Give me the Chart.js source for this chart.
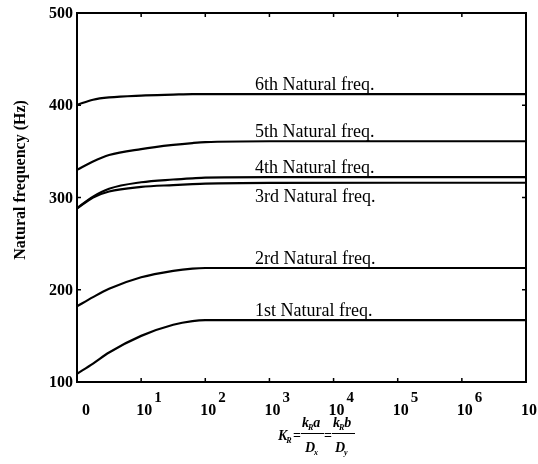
<!DOCTYPE html>
<html>
<head>
<meta charset="utf-8">
<script src="https://cdn.jsdelivr.net/npm/chart.js@4"></script>
<style>
  body { margin: 0; background: #fff; }
  #wrap { width: 538px; height: 464px; }
</style>
</head>
<body>
<div id="wrap"><canvas id="freqChart" width="538" height="464"></canvas></div>
<script>
// x is the decade exponent of K_R (0 .. 7)
const exponents = [0, 0.25, 0.5, 1, 1.5, 1.8, 2, 3, 5, 7];

const freq1 = [109, 120, 132, 150, 162, 166, 167, 167, 167, 167];
const freq2 = [182, 192, 201, 213.5, 220.5, 223, 223.6, 223.6, 223.6, 223.6];
const freq3 = [288, 300, 306.5, 311.5, 313.5, 314.5, 315, 315.8, 316, 316];
const freq4 = [288.5, 301, 309.5, 316.5, 319.5, 320.8, 321.5, 322, 322, 322];
const freq5 = [330, 339, 346, 352.5, 357, 359, 360, 361, 361, 361];
const freq6 = [400.5, 406, 408.5, 410.5, 411.5, 412, 412, 412, 412, 412];

const seriesNames = ['1st Natural freq.', '2rd Natural freq.', '3rd Natural freq.',
                     '4th Natural freq.', '5th Natural freq.', '6th Natural freq.'];
const seriesValues = [freq1, freq2, freq3, freq4, freq5, freq6];

const xTickValues = [0, 1, 2, 3, 4, 5, 6, 7];
const xTickBases = ['0', '10', '10', '10', '10', '10', '10', '10'];
const xTickExps = ['', '1', '2', '3', '4', '5', '6', '7'];
const yTickValues = [100, 200, 300, 400, 500];

const yTitle = 'Natural frequency (Hz)';
const labelAt = 2.775; // where the curve labels start (decade exponent)

const serif = '"Liberation Serif", "DejaVu Serif", serif';

function drawSub(ctx, x, y, main, sub, size) {
    ctx.font = `italic bold ${size}px ${serif}`;
    ctx.fillText(main, x, y);
    let w = ctx.measureText(main).width;
    ctx.font = `italic bold ${Math.round(size * 0.6)}px ${serif}`;
    ctx.fillText(sub, x + w - 1, y + 3);
    return w - 1 + ctx.measureText(sub).width;
}

const decorations = {
    id: 'decorations',
    afterDraw(chart) {
        const ctx = chart.ctx;
        const area = chart.chartArea;
        const xs = chart.scales.x;
        const ys = chart.scales.y;
        ctx.save();
        ctx.fillStyle = '#000';
        ctx.strokeStyle = '#000';

        // frame
        ctx.lineWidth = 2;
        ctx.strokeRect(area.left, area.top, area.right - area.left, area.bottom - area.top);

        // inward ticks
        ctx.lineWidth = 1.5;
        ctx.beginPath();
        xTickValues.forEach(v => {
            const px = xs.getPixelForValue(v);
            ctx.moveTo(px, area.bottom); ctx.lineTo(px, area.bottom - 4);
            ctx.moveTo(px, area.top); ctx.lineTo(px, area.top + 4);
        });
        yTickValues.forEach(v => {
            const py = ys.getPixelForValue(v);
            ctx.moveTo(area.left, py); ctx.lineTo(area.left + 4, py);
            ctx.moveTo(area.right, py); ctx.lineTo(area.right - 4, py);
        });
        ctx.stroke();

        // y tick labels
        ctx.font = `bold 16px ${serif}`;
        ctx.textAlign = 'right';
        ctx.textBaseline = 'middle';
        yTickValues.forEach(v => {
            ctx.fillText(String(v), area.left - 4, ys.getPixelForValue(v) + 1);
        });

        // x tick labels: base plus raised exponent
        ctx.textBaseline = 'alphabetic';
        xTickValues.forEach((v, i) => {
            const px = xs.getPixelForValue(v);
            ctx.font = `bold 16px ${serif}`;
            if (!xTickExps[i]) {
                ctx.textAlign = 'center';
                ctx.fillText(xTickBases[i], px + 9, 415);
                return;
            }
            ctx.textAlign = 'left';
            ctx.fillText(xTickBases[i], px - 5, 415);
            const w = ctx.measureText(xTickBases[i]).width;
            ctx.font = `bold 15px ${serif}`;
            ctx.fillText(xTickExps[i], px - 5 + w + 2, 402);
        });

        // y axis title
        ctx.save();
        ctx.translate(21, 180);
        ctx.rotate(-Math.PI / 2);
        ctx.textAlign = 'center';
        ctx.textBaseline = 'middle';
        ctx.font = `bold 16px ${serif}`;
        ctx.fillText(yTitle, 0, 0);
        ctx.restore();

        // curve labels, sitting on their curves (3rd hangs below)
        ctx.font = `18px ${serif}`;
        ctx.textAlign = 'left';
        seriesNames.forEach((name, i) => {
            const vals = seriesValues[i];
            const py = ys.getPixelForValue(vals[vals.length - 1]);
            const px = xs.getPixelForValue(labelAt);
            if (i === 2) {
                ctx.textBaseline = 'top';
                ctx.fillText(name, px, py + 6);
            } else {
                ctx.textBaseline = 'alphabetic';
                ctx.fillText(name, px, py - 4);
            }
        });

        // x axis title: K_R = k_R a / D_x = k_R b / D_y
        ctx.textAlign = 'left';
        ctx.textBaseline = 'alphabetic';
        drawSub(ctx, 278, 440, 'K', 'R', 14);
        ctx.font = `bold 14px ${serif}`;
        ctx.fillText('=', 293, 440);
        let w = drawSub(ctx, 302, 427, 'k', 'R', 14);
        ctx.font = `italic bold 14px ${serif}`;
        ctx.fillText('a', 302 + w, 427);
        drawSub(ctx, 305, 452, 'D', 'x', 14);
        ctx.font = `bold 14px ${serif}`;
        ctx.fillText('=', 324, 440);
        w = drawSub(ctx, 333, 427, 'k', 'R', 14);
        ctx.font = `italic bold 14px ${serif}`;
        ctx.fillText('b', 333 + w, 427);
        drawSub(ctx, 335, 452, 'D', 'y', 14);
        ctx.lineWidth = 1;
        ctx.beginPath();
        ctx.moveTo(301, 433.5); ctx.lineTo(324, 433.5);
        ctx.moveTo(332, 433.5); ctx.lineTo(355, 433.5);
        ctx.stroke();

        ctx.restore();
    }
};

const ctx = document.getElementById('freqChart').getContext('2d');
const freqChart = new Chart(ctx, {
    type: 'line',
    data: {
        datasets: seriesValues.map((vals, i) => ({
            label: seriesNames[i],
            data: exponents.map((x, j) => ({ x: x, y: vals[j] })),
            borderColor: '#000',
            borderWidth: 2.2,
            pointRadius: 0,
            fill: false,
            cubicInterpolationMode: 'monotone'
        }))
    },
    options: {
        responsive: false,
        animation: false,
        layout: { padding: { left: 77, right: 12, top: 13, bottom: 82 } },
        plugins: { legend: { display: false }, tooltip: { enabled: false } },
        scales: {
            x: { type: 'linear', min: 0, max: 7, display: false },
            y: { min: 100, max: 500, display: false }
        }
    },
    plugins: [decorations]
});
</script>
</body>
</html>
